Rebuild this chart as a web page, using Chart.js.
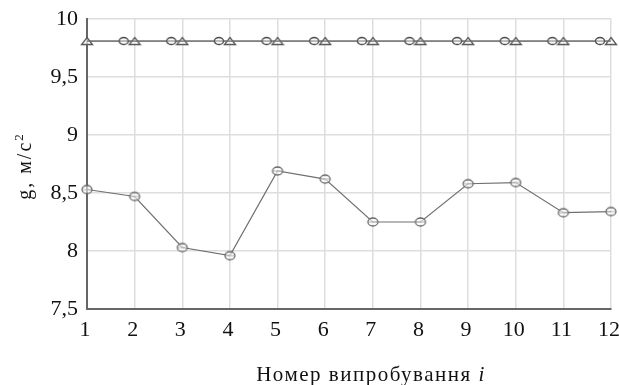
<!DOCTYPE html>
<html><head><meta charset="utf-8">
<script src="https://cdn.jsdelivr.net/npm/chart.js@4.4.1/dist/chart.umd.min.js"></script>
<style>html,body{margin:0;padding:0;background:#fff}#wrap{width:619px;height:385px}</style>
</head><body><div id="wrap"><canvas id="c" width="619" height="385"></canvas></div>
<script>
const trials = [1,2,3,4,5,6,7,8,9,10,11,12];
const gMeasured = [8.53,8.47,8.03,7.96,8.69,8.62,8.25,8.25,8.58,8.59,8.33,8.34];
const gRefCircle = [9.81,9.81,9.81,9.81,9.81,9.81,9.81,9.81,9.81,9.81,9.81,9.81];
const gRefTriangle = [9.81,9.81,9.81,9.81,9.81,9.81,9.81,9.81,9.81,9.81,9.81,9.81];
const yTickLabels = {"7.5":"7,5","8":"8","8.5":"8,5","9":"9","9.5":"9,5","10":"10"};
const xTitleMain = "Номер випробування ";
const xTitleVar = "i";
const yTitleMain = "g, м/с";
const yTitleSup = "2";

const FAM = "'Liberation Serif', 'Times New Roman', serif";

function ellipseImg(w,h,rx,ry,dx,col){
  const c=document.createElement('canvas');c.width=w;c.height=h;
  const x=c.getContext('2d');x.strokeStyle=col;x.lineWidth=1.3;x.fillStyle='rgba(255,255,255,0.6)';
  x.beginPath();x.ellipse(w/2+dx,h/2,rx,ry,0,0,Math.PI*2);x.fill();x.stroke();
  x.beginPath();x.moveTo(w/2+dx-rx,h/2);x.lineTo(w/2+dx+rx,h/2);x.strokeStyle='#999';x.lineWidth=0.8;x.stroke();
  return c;
}
function triImg(){
  const c=document.createElement('canvas');c.width=14;c.height=10;
  const x=c.getContext('2d');x.strokeStyle='#555';x.lineWidth=1.3;x.fillStyle='rgba(255,255,255,0.7)';
  x.beginPath();x.moveTo(7,1.5);x.lineTo(12.5,8.5);x.lineTo(1.5,8.5);x.closePath();x.fill();x.stroke();
  return c;
}
const lowMark = ellipseImg(14,12,5,4,0,'#666');
const upCircle = ellipseImg(34,10,4.5,3.5,-11,'#444');
const upTri = triImg();

const toXY = arr => arr.map((v,i)=>({x:trials[i],y:v}));
const tickFont = {family:FAM, size:22};

const titlesPlugin = {
  id:'titles',
  afterDraw(chart){
    const ctx = chart.ctx;
    ctx.save();
    ctx.fillStyle = '#111';
    ctx.textBaseline = 'alphabetic';
    ctx.textAlign = 'left';
    ctx.letterSpacing = '1.5px';
    ctx.font = `21px ${FAM}`;
    const w1 = ctx.measureText(xTitleMain).width;
    ctx.font = `italic 21px ${FAM}`;
    const w2 = ctx.measureText(xTitleVar).width;
    const cx = 371, by = 381;
    let sx = cx - (w1+w2)/2;
    ctx.font = `21px ${FAM}`;
    ctx.fillText(xTitleMain, sx, by);
    ctx.font = `italic 21px ${FAM}`;
    ctx.fillText(xTitleVar, sx + w1, by);
    ctx.letterSpacing = '2px';
    ctx.font = `20px ${FAM}`;
    const m1 = ctx.measureText(yTitleMain).width;
    ctx.font = `13px ${FAM}`;
    const m2 = ctx.measureText(yTitleSup).width;
    ctx.translate(31, 166);
    ctx.rotate(-Math.PI/2);
    const s = -(m1+m2)/2;
    ctx.font = `20px ${FAM}`;
    ctx.fillText(yTitleMain, s, 0);
    ctx.font = `13px ${FAM}`;
    ctx.fillText(yTitleSup, s + m1, -8);
    ctx.restore();
  }
};

new Chart(document.getElementById('c'),{
  type:'line',
  data:{datasets:[
    {data:toXY(gMeasured),borderColor:'#707070',borderWidth:1.2,pointStyle:lowMark,clip:false,tension:0},
    {data:toXY(gRefCircle),borderColor:'#707070',borderWidth:1.2,pointStyle:upCircle,clip:0,tension:0},
    {data:toXY(gRefTriangle),borderColor:'#707070',borderWidth:1,pointStyle:upTri,clip:false,tension:0}
  ]},
  plugins:[titlesPlugin],
  options:{
    responsive:false,animation:false,
    layout:{padding:{top:19,right:8,left:0,bottom:0}},
    plugins:{legend:{display:false},tooltip:{enabled:false}},
    scales:{
      x:{type:'linear',min:1,max:12,
        ticks:{stepSize:1,color:'#111',font:tickFont,padding:8,labelOffset:-2},
        grid:{color:'#dedede',lineWidth:1.5,drawTicks:false},
        border:{color:'#666',width:2},
        afterFit:s=>{s.height=76;s.paddingLeft=0;s.paddingRight=0;}
      },
      y:{type:'linear',min:7.5,max:10,
        ticks:{stepSize:0.5,color:'#111',font:tickFont,padding:9,callback:v=>yTickLabels[String(v)]??String(v)},
        grid:{color:'#dedede',lineWidth:1.5,drawTicks:false},
        border:{color:'#666',width:2},
        afterFit:s=>{s.width=87;s.paddingTop=0;s.paddingBottom=0;}
      }
    }
  }
});
</script></body></html>
